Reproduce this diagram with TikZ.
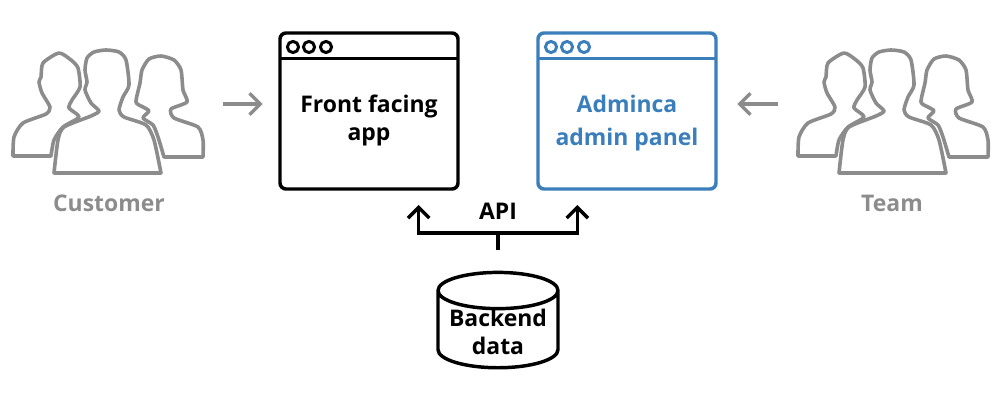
\documentclass[tikz,border=0pt]{standalone}
\usepackage{fontspec}
\setmainfont{Open Sans}
\usetikzlibrary{arrows.meta,shapes.geometric}
\definecolor{adminblue}{HTML}{3A7EBC}
\definecolor{peoplegray}{HTML}{8C8C8C}
\tikzset{
  winbox/.style={draw, rounded corners=4.5pt, line width=2.6pt, minimum width=133.5pt, minimum height=117pt, inner sep=0pt, outer sep=0pt},
  winlabel/.style={font=\bfseries\fontsize{17.2}{21}\selectfont, align=center, inner sep=0pt},
  peoplelabel/.style={font=\bfseries\fontsize{17.2}{21}\selectfont, peoplegray, inner sep=0pt},
  flow/.style={line width=2.6pt, -{Straight Barb[length=8pt,width=16pt,line width=2.6pt]}},
  outline/.style={peoplegray, line width=2.7pt, line join=round},
  pics/crowd/.style={code={
    \draw[outline]
      plot[smooth, tension=0.4] coordinates {(50,156) (53,140) (62,127) (78,117) (68,108) (71,100) (79,87) (77,68) (70,60) (58,53) (42,63) (40,77) (38,82) (41,93) (49,107) (45,114) (22,123) (13,137) (12,156)} -- cycle;
    \draw[outline]
      plot[smooth, tension=0.4] coordinates {(53,173) (57,140) (63,127) (90,116) (98,111) (90,103) (84,90) (86,82) (84,70) (86,58) (93,52) (105,50) (118,52) (125,60) (128,85) (122,97) (118,110) (123,117) (145,125) (153,140) (160,173)} -- cycle;
    \draw[outline]
      plot[smooth, tension=0.4] coordinates {(163,157) (157,137) (152,125) (142,118) (148,111) (142,107) (135,102) (139,83) (141,70) (148,59) (160,56) (173,60) (180,70) (182,90) (186,102) (170,109) (173,118) (197,127) (202,140) (202,157)} -- cycle;
  }}
}
\begin{document}
\begin{tikzpicture}[x=0.75pt, y=-0.75pt]
  \useasboundingbox (0,0) rectangle (1000,400);
  % people on both sides
  \pic at (1,0) {crowd};
  \pic at (786,0) {crowd};
  \node[minimum width=144pt, minimum height=92pt, inner sep=0pt] (customer) at (109,104) {};
  \node[minimum width=144pt, minimum height=92pt, inner sep=0pt] (team) at (894,104) {};
  \node[peoplelabel] (customerlabel) at (109,203) {Customer};
  \node[peoplelabel] (teamlabel) at (892,203) {Team};
  % the two windows
  \node[winbox] (front) at (369,111) {};
  \node[winbox, adminblue] (admin) at (627,111) {};
  \node[winlabel] (frontlabel) at (369,120.5) {Front facing\\app};
  \node[winlabel, adminblue] (adminlabel) at (627,123.5) {Adminca\\[3.7pt]admin panel};
  % title bars
  \draw[line width=2.6pt] ([yshift=-19pt]front.north west) -- ([yshift=-19pt]front.north east);
  \draw[line width=2.6pt, adminblue] ([yshift=-19pt]admin.north west) -- ([yshift=-19pt]admin.north east);
  \foreach \x in {293,309,326} {
    \draw[line width=2.2pt] (\x,47) circle (4.2pt);
    \draw[line width=2.2pt, adminblue] (\x+258,47) circle (4.2pt);
  }
  % database
  \node[draw, cylinder, shape border rotate=90, aspect=0.37, line width=2.6pt, minimum width=90pt, minimum height=71.5pt, inner sep=0pt, font=\bfseries\fontsize{17.2}{21}\selectfont] (backend) at (498,330) {\phantom{Backend}};
  \node[winlabel] (backendlabel) at (498,332) {Backend\\data};
  % arrows
  \draw[flow, peoplegray, line width=3pt, shorten <=13pt, shorten >=13pt] (customer.east) -- (front.west |- customer.east);
  \draw[flow, peoplegray, line width=3pt, shorten <=15pt, shorten >=16pt] (team.west) -- (admin.east |- team.west);
  \coordinate (fork) at (498,233);
  \coordinate (stem) at (498,250);
  \node[font=\bfseries\fontsize{17.2}{21}\selectfont, inner sep=0pt] (api) at (498,211) {API};
  \draw[line width=2.6pt] (stem) -- (fork);
  \draw[flow, shorten >=12pt] (fork) -| ([xshift=-29.5pt]front.south east);
  \draw[flow, shorten >=12pt] (fork) -| ([xshift=29.5pt]admin.south west);
\end{tikzpicture}
\end{document}
